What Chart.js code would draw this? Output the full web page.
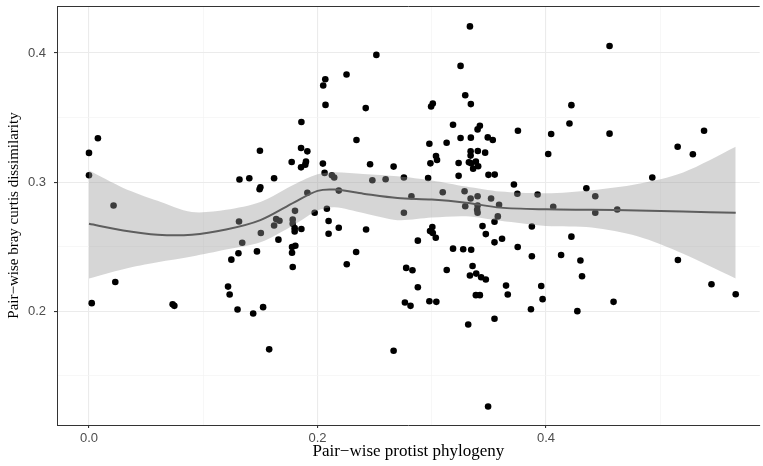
<!DOCTYPE html>
<html>
<head>
<meta charset="utf-8">
<script src="https://cdn.jsdelivr.net/npm/chart.js@4/dist/chart.umd.min.js"></script>
<style>
  html, body { margin: 0; padding: 0; background: #fff; }
  canvas { display: block; }
</style>
</head>
<body>
<canvas id="chart" width="763" height="466"></canvas>
<script>
// pair-wise values
const protistX = [
  0.0078, 0.000, 0.000, 0.0215, 0.023, 0.0024, 0.0732, 0.0747, 0.1246, 0.1308,
  0.1217, 0.1231, 0.130, 0.1317, 0.1313, 0.1341, 0.147, 0.1437, 0.1524, 0.1577,
  0.1403, 0.162, 0.150, 0.1493, 0.1496, 0.1504, 0.1638, 0.1667, 0.162, 0.1658,
  0.1783, 0.1783, 0.180, 0.1859, 0.180, 0.1777, 0.1806, 0.1777, 0.1783, 0.1803,
  0.1975, 0.2082, 0.1911, 0.2186, 0.2097, 0.2097, 0.2186, 0.2256, 0.2338, 0.2425,
  0.2666, 0.1774, 0.1899, 0.1893, 0.1856, 0.1856, 0.1911, 0.1859, 0.2047, 0.2062,
  0.2126, 0.2146, 0.207, 0.205, 0.2068, 0.2254, 0.2515, 0.2422, 0.2341, 0.246,
  0.2666, 0.248, 0.2596, 0.2756, 0.2822, 0.2756, 0.2776, 0.2831, 0.2765, 0.2814,
  0.2878, 0.2878, 0.3005, 0.2985, 0.3009, 0.3035, 0.2979, 0.304, 0.3131, 0.3186,
  0.3275, 0.3345, 0.3357, 0.3334, 0.3389, 0.3432, 0.3473, 0.3386, 0.3421, 0.3319,
  0.3549, 0.3493, 0.365, 0.3665, 0.3444, 0.3473, 0.3549, 0.3615, 0.3549, 0.3578,
  0.3752, 0.3876, 0.3876, 0.3868, 0.3958, 0.397, 0.4132, 0.4222, 0.4301, 0.4315,
  0.4274, 0.4591, 0.5154, 0.5448, 0.566, 0.3334, 0.3252, 0.3293, 0.3342, 0.2994,
  0.3009, 0.4222, 0.4205, 0.3186, 0.3421, 0.3401, 0.3252, 0.3342, 0.349, 0.3534,
  0.3754, 0.4045, 0.2979, 0.313, 0.3037, 0.3046, 0.2988, 0.334, 0.3403, 0.3467,
  0.334, 0.3325, 0.3345, 0.3386, 0.3406, 0.3362, 0.3235, 0.4019, 0.2968, 0.3235,
  0.3496, 0.3551, 0.3719, 0.3749, 0.3926, 0.4353, 0.3096, 0.3287, 0.334, 0.3401,
  0.3519, 0.3293, 0.3401, 0.3397, 0.3401, 0.3589, 0.4063, 0.4556, 0.4556, 0.5152,
  0.5285, 0.5383, 0.493, 0.4431, 0.4431, 0.4623
];
const brayY = [
  0.334, 0.3226, 0.3053, 0.2818, 0.2226, 0.2062, 0.2054, 0.2041, 0.2399, 0.2449,
  0.219, 0.2129, 0.2013, 0.302, 0.2695, 0.253, 0.2463, 0.1982, 0.2031, 0.1704,
  0.303, 0.303, 0.296, 0.2944, 0.3243, 0.2605, 0.2713, 0.270, 0.2664, 0.2554,
  0.2709, 0.2677, 0.2643, 0.2636, 0.2618, 0.2497, 0.2507, 0.2453, 0.2342, 0.2777,
  0.2762, 0.2793, 0.2917, 0.2934, 0.2698, 0.260, 0.2646, 0.2363, 0.2458, 0.2633,
  0.1693, 0.3156, 0.3158, 0.3135, 0.3114, 0.3264, 0.3238, 0.3465, 0.3143, 0.3071,
  0.3053, 0.3035, 0.3598, 0.3748, 0.3797, 0.3833, 0.3985, 0.3573, 0.3326, 0.3138,
  0.312, 0.3014, 0.3022, 0.3035, 0.289, 0.2762, 0.2335, 0.2317, 0.2067, 0.2041,
  0.2546, 0.2185, 0.2651, 0.262, 0.2605, 0.2569, 0.2077, 0.2072, 0.2319, 0.2484,
  0.2479, 0.2476, 0.235, 0.2276, 0.2291, 0.2263, 0.2245, 0.2124, 0.2124, 0.1897,
  0.1941, 0.1261, 0.2198, 0.2129, 0.2659, 0.2597, 0.2533, 0.2561, 0.2693, 0.2734,
  0.2497, 0.2656, 0.2425, 0.2015, 0.2195, 0.2093, 0.2435, 0.2577, 0.2392, 0.227,
  0.200, 0.2072, 0.2396, 0.2208, 0.2131, 0.4206, 0.390, 0.3673, 0.3604, 0.3585,
  0.3609, 0.3596, 0.3454, 0.3444, 0.3436, 0.3408, 0.3341, 0.3344, 0.3346, 0.3326,
  0.3398, 0.3372, 0.3297, 0.3305, 0.3202, 0.3171, 0.3145, 0.3238, 0.3241, 0.3228,
  0.3205, 0.3153, 0.3145, 0.3158, 0.3122, 0.3104, 0.3148, 0.3218, 0.3032, 0.3048,
  0.3056, 0.3058, 0.2981, 0.2909, 0.2904, 0.2952, 0.2921, 0.2929, 0.2873, 0.289,
  0.2873, 0.2813, 0.2818, 0.2785, 0.2762, 0.2824, 0.2809, 0.4054, 0.3375, 0.3274,
  0.3215, 0.3398, 0.3035, 0.289, 0.2762, 0.2788
];

// smoother and its band, read at these x positions
const smoothX     = [0, 0.03, 0.06, 0.09, 0.12, 0.15, 0.18, 0.20, 0.215, 0.24, 0.27, 0.30, 0.33, 0.36, 0.40, 0.44, 0.48, 0.52, 0.566];
const smoothFit   = [0.2677, 0.2625, 0.2592, 0.2592, 0.2632, 0.2705, 0.2845, 0.2932, 0.2942, 0.2910, 0.2876, 0.2865, 0.2840, 0.2802, 0.2789, 0.2785, 0.2780, 0.2772, 0.2762];
const smoothUpper = [0.3089, 0.2955, 0.2855, 0.2768, 0.2785, 0.2845, 0.2983, 0.3060, 0.3076, 0.3063, 0.3045, 0.3012, 0.2965, 0.2926, 0.2913, 0.2937, 0.2985, 0.3075, 0.3274];
const smoothLower = [0.2253, 0.2325, 0.2378, 0.2423, 0.2477, 0.2533, 0.2672, 0.2780, 0.2805, 0.2760, 0.2705, 0.2725, 0.2735, 0.2700, 0.2660, 0.2648, 0.2580, 0.2445, 0.2253];

const xGrid = [0, 0.1, 0.2, 0.3, 0.4, 0.5];
const xLabels = [0, 0.2, 0.4];
const yGrid = [0.15, 0.2, 0.25, 0.3, 0.35, 0.4];
const yLabels = [0.2, 0.3, 0.4];

const toPoints = (xs, ys) => xs.map((x, i) => ({ x: x, y: ys[i] }));
const isLabel = (list, v) => list.some(l => Math.abs(l - v) < 1e-9);

const topLine = {
  id: "topLine",
  afterDraw(chart) {
    const { ctx, chartArea } = chart;
    ctx.save();
    ctx.strokeStyle = "#333";
    ctx.lineWidth = 1;
    ctx.beginPath();
    ctx.moveTo(chartArea.left, chartArea.top + 0.5);
    ctx.lineTo(chartArea.right, chartArea.top + 0.5);
    ctx.stroke();
    ctx.restore();
  }
};

function axisGrid(labels) {
  return {
    color: ctx => (ctx.tick && isLabel(labels, ctx.tick.value)) ? "#ebebeb" : "#f3f3f3",
    lineWidth: ctx => (ctx.tick && isLabel(labels, ctx.tick.value)) ? 1.1 : 0.7,
    tickColor: ctx => (ctx.tick && isLabel(labels, ctx.tick.value)) ? "#333" : "rgba(0,0,0,0)",
    tickLength: 3,
    drawTicks: true
  };
}

new Chart(document.getElementById("chart"), {
  type: "scatter",
  data: {
    datasets: [
      {
        data: toPoints(protistX, brayY),
        backgroundColor: "#000",
        borderWidth: 0,
        pointRadius: 3.3,
        pointHoverRadius: 3.3,
        order: 3
      },
      {
        type: "line",
        data: toPoints(smoothX, smoothUpper),
        showLine: true,
        borderWidth: 0,
        borderColor: "rgba(0,0,0,0)",
        pointRadius: 0,
        tension: 0.3,
        fill: "+1",
        backgroundColor: "rgba(153,153,153,0.4)",
        order: 2
      },
      {
        type: "line",
        data: toPoints(smoothX, smoothLower),
        showLine: true,
        borderWidth: 0,
        borderColor: "rgba(0,0,0,0)",
        pointRadius: 0,
        tension: 0.3,
        fill: false,
        order: 2
      },
      {
        type: "line",
        data: toPoints(smoothX, smoothFit),
        showLine: true,
        borderColor: "#5e5e5e",
        borderWidth: 2,
        pointRadius: 0,
        tension: 0.3,
        fill: false,
        order: 1
      }
    ]
  },
  options: {
    responsive: false,
    animation: false,
    devicePixelRatio: 1,
    layout: { padding: { top: 6, right: 0, bottom: 0, left: 0 } },
    plugins: { legend: { display: false }, tooltip: { enabled: false } },
    scales: {
      x: {
        type: "linear",
        min: -0.028,
        max: 0.587,
        afterFit: scale => {
          scale.height = 41;
          scale.paddingLeft = 0;
          scale.paddingRight = 0;
        },
        afterBuildTicks: scale => { scale.ticks = xGrid.map(v => ({ value: v })); },
        grid: axisGrid(xLabels),
        border: { display: true, color: "#333", width: 1 },
        ticks: {
          padding: 3,
          color: "#4d4d4d",
          font: { family: "Liberation Sans", size: 13 },
          maxRotation: 0,
          autoSkip: false,
          callback: v => isLabel(xLabels, v) ? v.toFixed(1) : ""
        },
        title: {
          display: true,
          text: "Pair\u2212wise protist phylogeny",
          color: "#000",
          font: { family: "Liberation Serif", size: 17 },
          padding: { top: 0, bottom: 4 }
        }
      },
      y: {
        type: "linear",
        min: 0.1118,
        max: 0.4364,
        afterFit: scale => {
          scale.width = 57;
          scale.paddingTop = 0;
          scale.paddingBottom = 0;
        },
        afterBuildTicks: scale => { scale.ticks = yGrid.map(v => ({ value: v })); },
        grid: axisGrid(yLabels),
        border: { display: true, color: "#333", width: 1 },
        ticks: {
          padding: 8,
          color: "#4d4d4d",
          font: { family: "Liberation Sans", size: 13 },
          autoSkip: false,
          callback: v => isLabel(yLabels, v) ? v.toFixed(1) : ""
        },
        title: {
          display: true,
          text: "Pair\u2212wise bray curtis dissimilarity",
          color: "#000",
          font: { family: "Liberation Serif", size: 15 },
          padding: { top: 5, bottom: 0 }
        }
      }
    }
  },
  plugins: [topLine]
});
</script>
</body>
</html>
